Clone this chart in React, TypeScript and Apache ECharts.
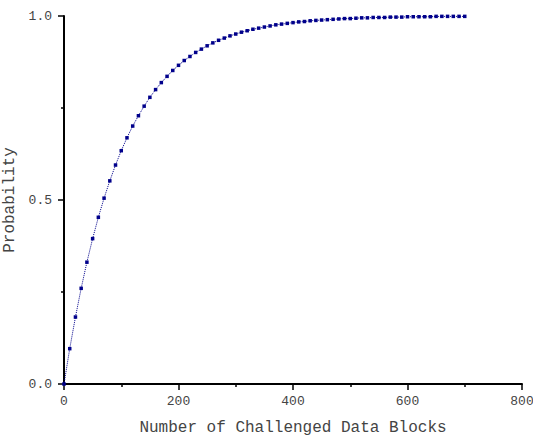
import React, { useEffect, useRef } from "react";
import * as echarts from "echarts";

const blocks: number[] = [
  0, 10, 20, 30, 40, 50, 60, 70, 80, 90, 100, 110, 120, 130, 140, 150, 160, 170, 180, 190,
  200, 210, 220, 230, 240, 250, 260, 270, 280, 290, 300, 310, 320, 330, 340, 350, 360, 370, 380, 390,
  400, 410, 420, 430, 440, 450, 460, 470, 480, 490, 500, 510, 520, 530, 540, 550, 560, 570, 580, 590,
  600, 610, 620, 630, 640, 650, 660, 670, 680, 690, 700,
];

const probability: number[] = [
  0.0, 0.096, 0.182, 0.26, 0.331, 0.395, 0.453, 0.505, 0.552, 0.595, 0.634, 0.669, 0.701, 0.729, 0.755,
  0.779, 0.8, 0.819, 0.836, 0.852, 0.866, 0.879, 0.89, 0.901, 0.91, 0.919, 0.927, 0.934, 0.94, 0.946,
  0.951, 0.956, 0.96, 0.964, 0.967, 0.97, 0.973, 0.976, 0.978, 0.98, 0.982, 0.984, 0.985, 0.987, 0.988,
  0.989, 0.99, 0.991, 0.992, 0.993, 0.993, 0.994, 0.995, 0.995, 0.996, 0.996, 0.996, 0.997, 0.997, 0.997,
  0.998, 0.998, 0.998, 0.998, 0.998, 0.999, 0.999, 0.999, 0.999, 0.999, 0.999,
];

const xTitle = "Number of Challenged Data Blocks";
const yTitle = "Probability";

export default function App() {
  const ref = useRef<HTMLDivElement>(null);
  useEffect(() => {
    if (!ref.current) return;
    const chart = echarts.init(ref.current, undefined, { renderer: "svg" });
    const font = "'Liberation Mono', 'DejaVu Sans Mono', monospace";
    chart.setOption({
      animation: false,
      backgroundColor: "#ffffff",
      grid: { left: 64, right: 11, top: 16, bottom: 57, containLabel: false, outerBoundsMode: "none" },
      xAxis: {
        type: "value",
        min: 0,
        max: 800,
        interval: 200,
        name: xTitle,
        nameLocation: "middle",
        nameGap: 36,
        nameTextStyle: { fontFamily: font, fontSize: 16, color: "#444" },
        axisLine: { show: true, lineStyle: { color: "#000", width: 2 } },
        axisTick: { show: true, inside: false, length: 6, lineStyle: { color: "#000", width: 1.5 } },
        minorTick: { show: true, splitNumber: 2, length: 3, lineStyle: { color: "#000", width: 1.5 } },
        axisLabel: { fontFamily: font, fontSize: 13, color: "#444", margin: 11 },
        splitLine: { show: false },
      },
      yAxis: {
        type: "value",
        min: 0,
        max: 1,
        interval: 0.5,
        name: yTitle,
        nameLocation: "middle",
        nameGap: 41,
        nameTextStyle: { fontFamily: font, fontSize: 16, color: "#444" },
        axisLine: { show: true, lineStyle: { color: "#000", width: 2 } },
        axisTick: { show: true, inside: false, length: 6, lineStyle: { color: "#000", width: 1.5 } },
        minorTick: { show: true, splitNumber: 2, length: 3, lineStyle: { color: "#000", width: 1.5 } },
        axisLabel: {
          fontFamily: font,
          fontSize: 13,
          color: "#444",
          margin: 12,
          formatter: (v: number) => v.toFixed(1),
        },
        splitLine: { show: false },
      },
      series: [
        {
          type: "line",
          data: blocks.map((b, i) => [b, probability[i]]),
          symbol: "rect",
          symbolSize: 3.5,
          showSymbol: true,
          showAllSymbol: true,
          itemStyle: { color: "#00008b" },
          lineStyle: { color: "#00008b", width: 1, type: "dotted" },
        },
      ],
    });
    return () => chart.dispose();
  }, []);
  return (
    <div
      ref={ref}
      style={{ position: "fixed", left: 0, top: 0, width: 533, height: 441, background: "#fff" }}
    />
  );
}
